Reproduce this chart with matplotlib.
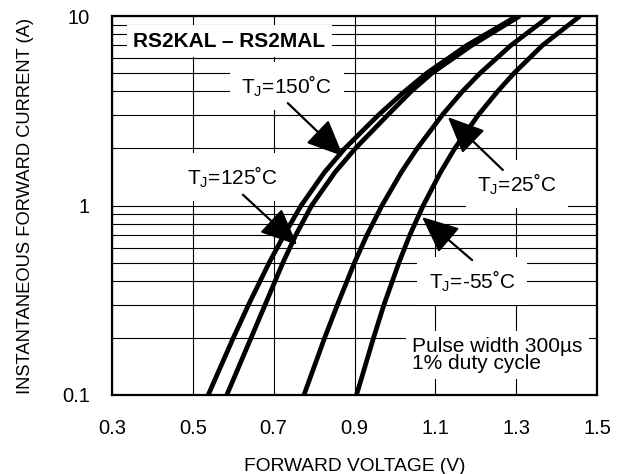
import matplotlib
matplotlib.use("Agg")
import matplotlib.pyplot as plt
from matplotlib.ticker import FixedLocator, NullFormatter

plt.rcParams['font.family'] = ['Liberation Sans', 'DejaVu Sans']

# Forward current (A) sample levels
current = [0.1, 0.2, 0.3, 0.5, 0.7, 1, 1.5, 2, 3, 4, 5, 7, 10]
# Forward voltage (V) at each current level, per junction temperature
v_150 = [0.538, 0.600, 0.638, 0.689, 0.726, 0.768, 0.826, 0.876, 0.959, 1.024, 1.079, 1.178, 1.302]
v_125 = [0.584, 0.644, 0.679, 0.723, 0.755, 0.794, 0.852, 0.902, 0.982, 1.040, 1.092, 1.190, 1.309]
v_25 = [0.775, 0.826, 0.858, 0.900, 0.931, 0.968, 1.016, 1.055, 1.117, 1.167, 1.211, 1.287, 1.383]
v_m55 = [0.905, 0.947, 0.973, 1.010, 1.037, 1.070, 1.113, 1.148, 1.206, 1.254, 1.295, 1.365, 1.458]

x_ticks = [0.3, 0.5, 0.7, 0.9, 1.1, 1.3, 1.5]
x_tick_labels = ['0.3', '0.5', '0.7', '0.9', '1.1', '1.3', '1.5']
y_ticks = [0.1, 1, 10]
y_tick_labels = ['0.1', '1', '10']

fig = plt.figure(figsize=(6.25, 4.74), dpi=100)
ax = fig.add_axes([0.1792, 0.1667, 0.7760, 0.7995])

ax.set_yscale('log')
ax.set_xlim(0.3, 1.5)
ax.set_ylim(0.1, 10)

ax.set_xticks(x_ticks)
ax.set_xticklabels(x_tick_labels)
ax.set_yticks(y_ticks)
ax.set_yticklabels(y_tick_labels)
minor_y = [m * d for d in (0.1, 1) for m in range(2, 10)]
ax.yaxis.set_minor_locator(FixedLocator(minor_y))
ax.yaxis.set_minor_formatter(NullFormatter())
ax.tick_params(which='both', length=0, labelsize=14.5, colors='black')
ax.tick_params(axis='x', pad=17)
ax.tick_params(axis='y', pad=16)

ax.grid(True, which='both', axis='y', color='black', linewidth=0.8, zorder=0)
ax.grid(True, which='major', axis='x', color='black', linewidth=0.8, zorder=0)
ax.set_axisbelow(True)

for sp in ax.spines.values():
    sp.set_linewidth(1.6)
    sp.set_color('black')

for v in (v_150, v_125, v_25, v_m55):
    ax.plot(v, current, color='black', linewidth=3.4, solid_capstyle='butt',
            solid_joinstyle='round', zorder=3)

ax.set_xlabel('FORWARD VOLTAGE (V)', fontsize=13.8, labelpad=15)
ax.set_ylabel('INSTANTANEOUS FORWARD CURRENT (A)', fontsize=13.2, labelpad=20)

box = dict(boxstyle='square,pad=0.55', facecolor='white', edgecolor='none')
arrow = dict(arrowstyle='-|>,head_length=0.95,head_width=0.42', mutation_scale=24,
             color='black', linewidth=1.6, shrinkA=0, shrinkB=0)

ax.text(0.59, 7.38, 'RS2KAL – RS2MAL', fontsize=15, fontweight='bold', ha='center',
        va='center', bbox=dict(boxstyle='square,pad=0.3', facecolor='white', edgecolor='none'), zorder=4)

ax.text(0.733, 4.28, r'T$_\mathregular{J}$=150˚C', fontsize=15, ha='center', va='center', bbox=box, zorder=4)
ax.annotate('', xy=(0.872, 1.82), xytext=(0.735, 3.47), arrowprops=arrow, zorder=5)

ax.text(0.597, 1.41, r'T$_\mathregular{J}$=125˚C', fontsize=15, ha='center', va='center', bbox=box, zorder=4)
ax.annotate('', xy=(0.758, 0.62), xytext=(0.624, 1.14), arrowprops=arrow, zorder=5)

ax.text(1.302, 1.30, r'T$_\mathregular{J}$=25˚C', fontsize=15, ha='center', va='center', bbox=box, zorder=4)
ax.annotate('', xy=(1.131, 2.93), xytext=(1.267, 1.54), arrowprops=arrow, zorder=5)

ax.text(1.191, 0.40, r'T$_\mathregular{J}$=-55˚C', fontsize=15, ha='center', va='center', bbox=box, zorder=4)
ax.annotate('', xy=(1.067, 0.869), xytext=(1.191, 0.515), arrowprops=arrow, zorder=5)

ax.text(1.042, 0.1626, 'Pulse width 300µs\n1% duty cycle', fontsize=15, ha='left', va='center',
        linespacing=0.85, bbox=dict(boxstyle='square,pad=0.3', facecolor='white', edgecolor='none'), zorder=4)

fig.savefig('out.png', dpi=100)
